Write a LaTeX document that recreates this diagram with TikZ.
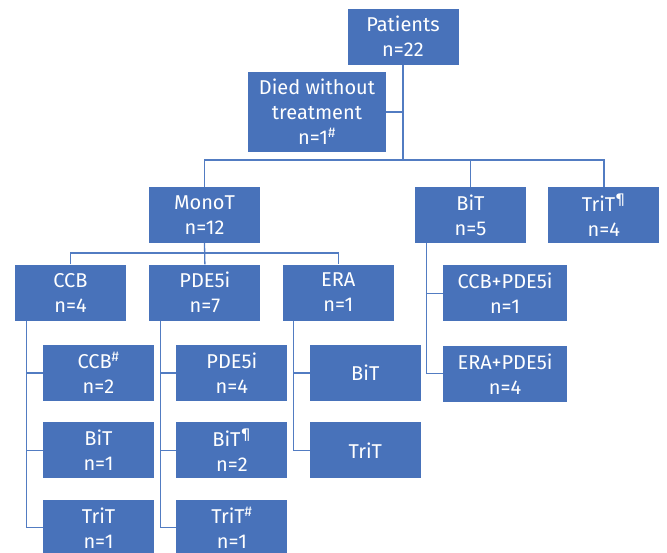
\documentclass[tikz,border=0pt]{standalone}
\usepackage{fontspec}
\setmainfont{Fira Sans}
\usetikzlibrary{positioning}
\definecolor{boxblue}{RGB}{72,114,186}
\definecolor{lineblue}{RGB}{82,124,194}
\tikzset{
  box/.style={rectangle, fill=boxblue, text=white, minimum width=111pt,
    minimum height=56pt, inner sep=0pt, align=center,
    font=\fontsize{20}{25}\selectfont},
  link/.style={draw=lineblue, line width=1.3pt},
}

\begin{document}
\begin{tikzpicture}[x=1pt,y=-1pt]
  \clip (0,0) rectangle (667,552);
  \fill[white] (0,0) rectangle (667,552);

  % top
  \node[box] (patients) at (403,36.5) {Patients\\n=22};
  \node[box, minimum width=138pt, minimum height=80pt] (died) at (317,112)
    {Died without\\treatment\\n=1\textsuperscript{\#}};

  % treatment groups
  \node[box] (mono) at (204.5,215) {MonoT\\n=12};
  \node[box] (bit) at (470.5,215) {BiT\\n=5};
  \node[box, right=22pt of bit] (trit) {TriT\textsuperscript{¶}\\n=4};

  % monotherapy
  \node[box] (ccb) at (70.5,292.5) {CCB\\n=4};
  \node[box, right=23pt of ccb] (pde) {PDE5i\\n=7};
  \node[box, right=22pt of pde] (era) {ERA\\n=1};

  \node[box, anchor=north west] (ccbccb) at ([xshift=28pt,yshift=-24pt]ccb.south west)
    {CCB\textsuperscript{\#}\\n=2};
  \node[box, below=21pt of ccbccb] (ccbbit) {BiT\\n=1};
  \node[box, below=21pt of ccbbit] (ccbtrit) {TriT\\n=1};

  \node[box, anchor=north west] (pdepde) at ([xshift=27pt,yshift=-24pt]pde.south west)
    {PDE5i\\n=4};
  \node[box, below=21pt of pdepde] (pdebit) {BiT\textsuperscript{¶}\\n=2};
  \node[box, below=21pt of pdebit] (pdetrit) {TriT\textsuperscript{\#}\\n=1};

  \node[box, anchor=north west] (erabit) at ([xshift=27pt,yshift=-24pt]era.south west) {BiT};
  \node[box, below=21pt of erabit] (eratrit) {TriT};

  % bitherapy
  \node[box, minimum width=124pt, anchor=north west] (bitccb)
    at ([xshift=28pt,yshift=-22pt]bit.south west) {CCB+PDE5i\\n=1};
  \node[box, minimum width=124pt, below=24pt of bitccb] (bitera) {ERA+PDE5i\\n=4};

  % connectors
  \coordinate (split) at (403,160);
  \coordinate (monosplit) at (204.5,253);
  \draw[link] (patients.south) -- (split);
  \draw[link] (died.east) -- (died.east -| split);
  \draw[link] (mono.north) |- (split) -| (trit.north);
  \draw[link] (bit.north) -- (bit.north |- split);

  \draw[link] (ccb.north) |- (monosplit) -| (era.north);
  \draw[link] (mono.south) -- (pde.north);

  \coordinate (ccbtrunk) at ([xshift=12pt]ccb.south west);
  \draw[link] (ccbtrunk) |- (ccbtrit.west);
  \draw[link] (ccbtrunk |- ccbccb.west) -- (ccbccb.west);
  \draw[link] (ccbtrunk |- ccbbit.west) -- (ccbbit.west);

  \coordinate (pdetrunk) at ([xshift=11pt]pde.south west);
  \draw[link] (pdetrunk) |- (pdetrit.west);
  \draw[link] (pdetrunk |- pdepde.west) -- (pdepde.west);
  \draw[link] (pdetrunk |- pdebit.west) -- (pdebit.west);

  \coordinate (eratrunk) at ([xshift=11pt]era.south west);
  \draw[link] (eratrunk) |- (eratrit.west);
  \draw[link] (eratrunk |- erabit.west) -- (erabit.west);

  \coordinate (bittrunk) at ([xshift=12pt]bit.south west);
  \draw[link] (bittrunk) |- (bitera.west);
  \draw[link] (bittrunk |- bitccb.west) -- (bitccb.west);
\end{tikzpicture}
\end{document}
